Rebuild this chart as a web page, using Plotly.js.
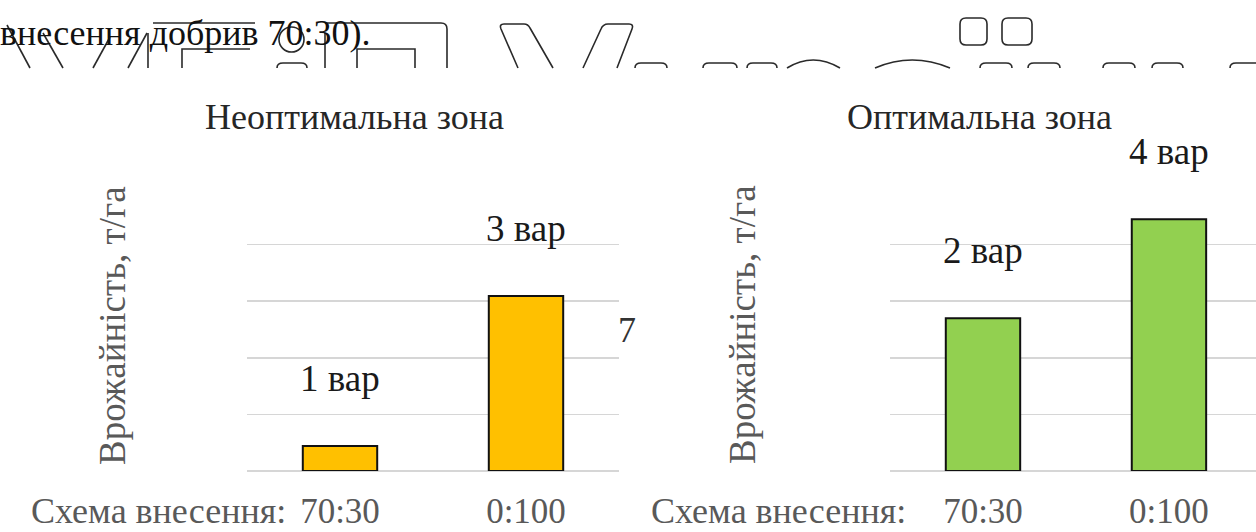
<!DOCTYPE html>
<html>
<head>
<meta charset="utf-8">
<script src="https://cdn.plot.ly/plotly-3.0.1.min.js"></script>
<style>
  html, body { margin: 0; padding: 0; background: #ffffff; overflow: hidden; }
  #chart { width: 1256px; height: 532px; }
</style>
</head>
<body>
<div id="chart"></div>
<script>
// Application schemes (x categories), shared by both panels
const categories = ['70:30', '0:100'];

// Yield bars, in gridline steps (the value axis carries no numbers)
const yieldNonOptimal = [0.44, 3.09];
const yieldOptimal = [2.70, 4.45];

// Variant labels placed above each bar
const labelsNonOptimal = ['1 вар', '3 вар'];
const labelsOptimal = ['2 вар', '4 вар'];

// Text
const zoneTitles = ['Неоптимальна зона', 'Оптимальна зона'];
const yTitle = 'Врожайність, т/га';
const schemeLabel = 'Схема внесення:';
const headerText = 'внесення добрив 70:30).';

const W = 1256, H = 532;
const px = x => x / W;            // pixel -> paper x
const py = y => 1 - y / H;        // pixel -> paper y
const SERIF = '"Liberation Serif", "DejaVu Serif", serif';
const GREY = '#595959';

const traces = [
  {
    type: 'bar', x: categories, y: yieldNonOptimal, xaxis: 'x', yaxis: 'y',
    width: 0.4,
    marker: { color: '#FFC000', line: { color: '#111111', width: 2 } },
    hoverinfo: 'skip', showlegend: false
  },
  {
    type: 'bar', x: categories, y: yieldOptimal, xaxis: 'x2', yaxis: 'y2',
    width: 0.4,
    marker: { color: '#92D050', line: { color: '#111111', width: 2 } },
    hoverinfo: 'skip', showlegend: false
  }
];

const xBase = {
  type: 'category', showgrid: false, zeroline: false, showline: false,
  ticks: '', tickfont: { family: SERIF, size: 35, color: GREY },
  ticklabelstandoff: 16, fixedrange: true
};
const yBase = {
  range: [0, 5], tick0: 0, dtick: 1, showticklabels: false, ticks: '',
  showgrid: true, gridcolor: '#d6d6d6', gridwidth: 1.5,
  zeroline: true, zerolinecolor: '#d6d6d6', zerolinewidth: 1.5,
  showline: false, fixedrange: true
};

const annotations = [];

// panel titles
annotations.push({ xref: 'paper', yref: 'paper', x: px(354), y: py(117), text: zoneTitles[0],
  showarrow: false, xanchor: 'center', yanchor: 'middle', font: { family: SERIF, size: 36, color: '#262626' } });
annotations.push({ xref: 'paper', yref: 'paper', x: px(979), y: py(117), text: zoneTitles[1],
  showarrow: false, xanchor: 'center', yanchor: 'middle', font: { family: SERIF, size: 36, color: '#262626' } });

// vertical axis titles
[112, 742].forEach(xp => annotations.push({
  xref: 'paper', yref: 'paper', x: px(xp), y: py(325), text: yTitle, textangle: -90,
  showarrow: false, xanchor: 'center', yanchor: 'middle', font: { family: SERIF, size: 37, color: GREY }
}));

// scheme captions in front of the category labels
[288, 908].forEach(xp => annotations.push({
  xref: 'paper', yref: 'paper', x: px(xp), y: py(511), text: schemeLabel,
  showarrow: false, xanchor: 'right', yanchor: 'middle', font: { family: SERIF, size: 36, color: GREY }
}));

// variant labels above the bars
categories.forEach((c, i) => {
  annotations.push({ xref: 'x', yref: 'y', x: c, y: yieldNonOptimal[i], yshift: 68, text: labelsNonOptimal[i],
    showarrow: false, xanchor: 'center', yanchor: 'middle', font: { family: SERIF, size: 37, color: '#1a1a1a' } });
  annotations.push({ xref: 'x2', yref: 'y2', x: c, y: yieldOptimal[i], yshift: 68, text: labelsOptimal[i],
    showarrow: false, xanchor: 'center', yanchor: 'middle', font: { family: SERIF, size: 37, color: '#1a1a1a' } });
});

// running header line and stray glyph
annotations.push({ xref: 'paper', yref: 'paper', x: 0, xshift: -2, y: py(33), text: headerText,
  showarrow: false, xanchor: 'left', yanchor: 'middle', font: { family: SERIF, size: 36, color: '#111111' } });
annotations.push({ xref: 'paper', yref: 'paper', x: px(627), y: py(330), text: '7',
  showarrow: false, xanchor: 'center', yanchor: 'middle', font: { family: SERIF, size: 36, color: '#333333' } });

// decorative outline strokes along the top edge (pixel paths converted to paper units)
const toPaper = d => d.replace(/(-?\d+(?:\.\d+)?),(-?\d+(?:\.\d+)?)/g,
  (m, a, b) => px(+a).toFixed(5) + ',' + py(+b).toFixed(5));
const topArc = (x1, x2) => `M ${x1},68 Q ${x1},63 ${x1 + 6},63 L ${x2 - 6},63 Q ${x2},63 ${x2},68`;
const strokes = [
  'M 7,25 L 30,68', 'M 43,33 L 63,68', 'M 93,68 L 110,37', 'M 128,68 L 147,33',
  'M 148,33 L 148,68', 'M 182,68 L 182,49 L 250,49', 'M 153,23 L 255,23',
  'M 325,68 L 325,33', 'M 325,23 L 441,23 Q 447,23 447,29 L 447,68',
  'M 357,68 L 357,49 L 415,49 L 415,68',
  'M 518,68 L 501,29 Q 499,24 504,24 L 524,24 Q 528,24 530,28 L 553,68',
  'M 583,68 L 601,29 Q 603,24 608,24 L 629,24 Q 634,24 632,29 L 617,68',
  topArc(277, 307), topArc(635, 667), topArc(703, 737), topArc(747, 777),
  'M 787,68 Q 813,52 840,68', 'M 875,68 Q 912,52 950,68',
  topArc(980, 1012), topArc(1028, 1060), topArc(1103, 1135), topArc(1152, 1183), topArc(1230, 1266),
  'M 966,18 L 981,18 Q 987,18 987,24 L 987,39 Q 987,45 981,45 L 966,45 Q 960,45 960,39 L 960,24 Q 960,18 966,18 Z',
  'M 1008,18 L 1026,18 Q 1032,18 1032,24 L 1032,39 Q 1032,45 1026,45 L 1008,45 Q 1002,45 1002,39 L 1002,24 Q 1002,18 1008,18 Z'
];
const shapes = strokes.map(d => ({
  type: 'path', xref: 'paper', yref: 'paper', path: toPaper(d),
  line: { color: '#2a2a2a', width: 1.6 }, fillcolor: 'rgba(0,0,0,0)', layer: 'above'
}));
shapes.push({ type: 'circle', xref: 'paper', yref: 'paper', x0: px(279), x1: px(304), y0: py(52), y1: py(27),
  line: { color: '#2a2a2a', width: 1.6 }, layer: 'above' });

const layout = {
  width: W, height: H,
  margin: { l: 0, r: 0, t: 0, b: 0 },
  paper_bgcolor: '#ffffff', plot_bgcolor: '#ffffff',
  font: { family: SERIF },
  showlegend: false, bargap: 0.6,
  xaxis: Object.assign({}, xBase, { domain: [px(247), px(619)], range: [-0.5, 1.5], anchor: 'y' }),
  yaxis: Object.assign({}, yBase, { domain: [py(471), py(188)], anchor: 'x' }),
  xaxis2: Object.assign({}, xBase, { domain: [px(890), 1], range: [-0.5, 1.468], anchor: 'y2' }),
  yaxis2: Object.assign({}, yBase, { domain: [py(471), py(188)], anchor: 'x2' }),
  annotations: annotations,
  shapes: shapes
};

Plotly.newPlot('chart', traces, layout, { staticPlot: true, displayModeBar: false });
</script>
</body>
</html>
